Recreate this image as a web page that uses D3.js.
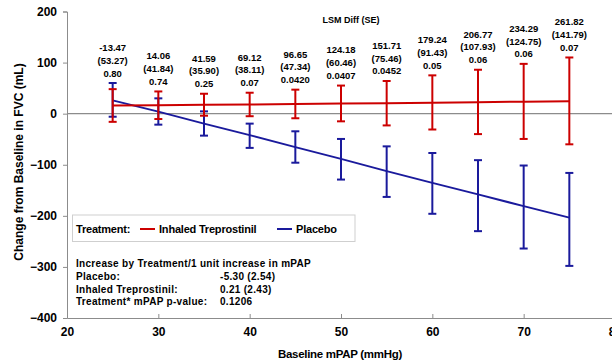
<!DOCTYPE html>
<html>
<head>
<meta charset="utf-8">
<script src="https://cdn.jsdelivr.net/npm/d3@7"></script>
<style>
  body { margin: 0; background: #fff; }
  svg { display: block; font-family: "Liberation Sans", Arial, sans-serif; }
</style>
</head>
<body>
<svg width="612" height="361"></svg>
<script>
// valori
const mpap = [25, 30, 35, 40, 45, 50, 55, 60, 65, 70, 75];
const lsmDiff = ["-13.47", "14.06", "41.59", "69.12", "96.65", "124.18", "151.71", "179.24", "206.77", "234.29", "261.82"];
const lsmSE = ["(53.27)", "(41.84)", "(35.90)", "(38.11)", "(47.34)", "(60.46)", "(75.46)", "(91.43)", "(107.93)", "(124.75)", "(141.79)"];
const pValues = ["0.80", "0.74", "0.25", "0.07", "0.0420", "0.0407", "0.0452", "0.05", "0.06", "0.06", "0.07"];

// Inhaled Treprostinil
const trepMean = [16, 16.5, 17.5, 18, 19, 20, 20.5, 21.5, 22.5, 23.5, 24.5];
const trepHi = [48, 43.5, 39, 41, 47, 55, 64, 75, 86, 97.5, 110];
const trepLo = [-16, -10.5, -4, -5, -9, -15, -23, -31, -40, -49.5, -60];

// Placebo
const placMean = [26, 4, -19.5, -42, -65.5, -88.5, -112.5, -135.5, -158, -181, -203.5];
const placHi = [60, 30, 4.5, -19.5, -34.5, -49.5, -64, -77, -91, -101.5, -116];
const placLo = [-6, -21.5, -43, -67, -96, -129, -163, -196, -230, -264, -298];

const yTicks = [200, 100, 0, -100, -200, -300, -400];
const xTicks = [20, 30, 40, 50, 60, 70, 80];

const statsLines = [
  ["Increase by Treatment/1 unit increase in mPAP", ""],
  ["Placebo:", "-5.30 (2.54)"],
  ["Inhaled Treprostinil:", "0.21 (2.43)"],
  ["Treatment* mPAP p-value:", "0.1206"]
];

const red = "#cc0000";
const blue = "#1a1a9c";
const grey = "#8c8c8c";

const svg = d3.select("svg");

const x = d3.scaleLinear().domain([20, 80]).range([67, 615]);
const y = d3.scaleLinear().domain([-400, 200]).range([318, 11.5]);

// asse y
const yAxis = svg.append("g")
  .attr("transform", "translate(67,0)")
  .call(d3.axisLeft(y).tickValues(yTicks).tickSize(4).tickPadding(6));
yAxis.select(".domain").attr("stroke", grey);
yAxis.selectAll(".tick line").attr("stroke", grey);
yAxis.selectAll(".tick text")
  .attr("font-size", 12).attr("font-weight", "bold").attr("fill", "#000")
  .attr("font-family", "Liberation Sans, Arial, sans-serif");

// asse x (tacche verso l'interno)
const xAxis = svg.append("g")
  .attr("transform", "translate(0,318)")
  .call(d3.axisBottom(x).tickValues(xTicks).tickSizeInner(-4).tickSizeOuter(0).tickPadding(9));
xAxis.select(".domain").attr("stroke", grey);
xAxis.selectAll(".tick line").attr("stroke", grey);
xAxis.selectAll(".tick text")
  .attr("font-size", 12).attr("font-weight", "bold").attr("fill", "#000")
  .attr("font-family", "Liberation Sans, Arial, sans-serif");

// linea dello zero
svg.append("line")
  .attr("x1", x(20)).attr("x2", 612)
  .attr("y1", y(0)).attr("y2", y(0))
  .attr("stroke", grey).attr("stroke-width", 1.3);

// titoli assi
svg.append("text")
  .attr("transform", "translate(19," + 162 + ") rotate(-90)")
  .attr("text-anchor", "middle").attr("dominant-baseline", "central")
  .attr("font-size", 12).attr("font-weight", "bold")
  .text("Change from Baseline in FVC (mL)");

svg.append("text")
  .attr("x", 340).attr("y", 354)
  .attr("text-anchor", "middle").attr("dominant-baseline", "central")
  .attr("font-size", 11.5).attr("font-weight", "bold").attr("letter-spacing", -0.3)
  .text("Baseline mPAP (mmHg)");

// serie
const series = [
  { name: "Placebo", color: blue, mean: placMean, lo: placLo, hi: placHi },
  { name: "Inhaled Treprostinil", color: red, mean: trepMean, lo: trepLo, hi: trepHi }
];

const line = d3.line().x((d, i) => x(mpap[i])).y(d => y(d));

series.forEach(s => {
  const g = svg.append("g");
  g.append("path")
    .datum(s.mean)
    .attr("d", line)
    .attr("fill", "none")
    .attr("stroke", s.color)
    .attr("stroke-width", 2);

  const bars = g.selectAll("g.bar")
    .data(mpap.map((m, i) => ({ m, lo: s.lo[i], hi: s.hi[i] })))
    .join("g");
  bars.append("line")
    .attr("x1", d => x(d.m)).attr("x2", d => x(d.m))
    .attr("y1", d => y(d.hi)).attr("y2", d => y(d.lo))
    .attr("stroke", s.color).attr("stroke-width", 2);
  [d => d.hi, d => d.lo].forEach(f => {
    bars.append("line")
      .attr("x1", d => x(d.m) - 4).attr("x2", d => x(d.m) + 4)
      .attr("y1", d => y(f(d))).attr("y2", d => y(f(d)))
      .attr("stroke", s.color).attr("stroke-width", 2);
  });
});

// etichette LSM Diff (SE)
svg.append("text")
  .attr("x", 351).attr("y", 20)
  .attr("text-anchor", "middle").attr("dominant-baseline", "central")
  .attr("font-size", 9).attr("font-weight", "bold")
  .text("LSM Diff (SE)");

const labels = svg.append("g")
  .selectAll("g")
  .data(mpap.map((m, i) => ({ m, i, top: Math.max(trepHi[i], placHi[i]) })))
  .join("g")
  .attr("transform", d => "translate(" + x(d.m) + "," + (y(d.top) - 10) + ")");

labels.selectAll("text")
  .data(d => [lsmDiff[d.i], lsmSE[d.i], pValues[d.i]])
  .join("text")
  .attr("y", (d, k) => (k - 2) * 12.8)
  .attr("text-anchor", "middle").attr("dominant-baseline", "central")
  .attr("font-size", 9.5).attr("font-weight", "bold")
  .text(d => d);

// legenda
const legend = svg.append("g");
legend.append("rect")
  .attr("x", 72.5).attr("y", 215)
  .attr("width", 282.5).attr("height", 26.5)
  .attr("fill", "#fff").attr("stroke", "#cfcfcf").attr("stroke-width", 1);
legend.append("text")
  .attr("x", 76).attr("y", 229)
  .attr("dominant-baseline", "central")
  .attr("font-size", 11).attr("font-weight", "bold").attr("letter-spacing", -0.2)
  .text("Treatment:");

const legendItems = [
  { name: "Inhaled Treprostinil", color: red, x0: 140 },
  { name: "Placebo", color: blue, x0: 277 }
];
legendItems.forEach(it => {
  legend.append("line")
    .attr("x1", it.x0).attr("x2", it.x0 + 15)
    .attr("y1", 229).attr("y2", 229)
    .attr("stroke", it.color).attr("stroke-width", 2);
  legend.append("text")
    .attr("x", it.x0 + 19).attr("y", 229)
    .attr("dominant-baseline", "central")
    .attr("font-size", 11).attr("font-weight", "bold").attr("letter-spacing", -0.2)
    .text(it.name);
});

// testo con le pendenze
const stats = svg.append("g")
  .selectAll("g")
  .data(statsLines)
  .join("g")
  .attr("transform", (d, i) => "translate(0," + (263.5 + i * 12.8) + ")");
stats.append("text")
  .attr("x", 76)
  .attr("dominant-baseline", "central")
  .attr("font-size", 10).attr("font-weight", "bold").attr("letter-spacing", 0.3)
  .text(d => d[0]);
stats.append("text")
  .attr("x", 220)
  .attr("dominant-baseline", "central")
  .attr("font-size", 10).attr("font-weight", "bold").attr("letter-spacing", 0.3)
  .text(d => d[1]);
</script>
</body>
</html>
